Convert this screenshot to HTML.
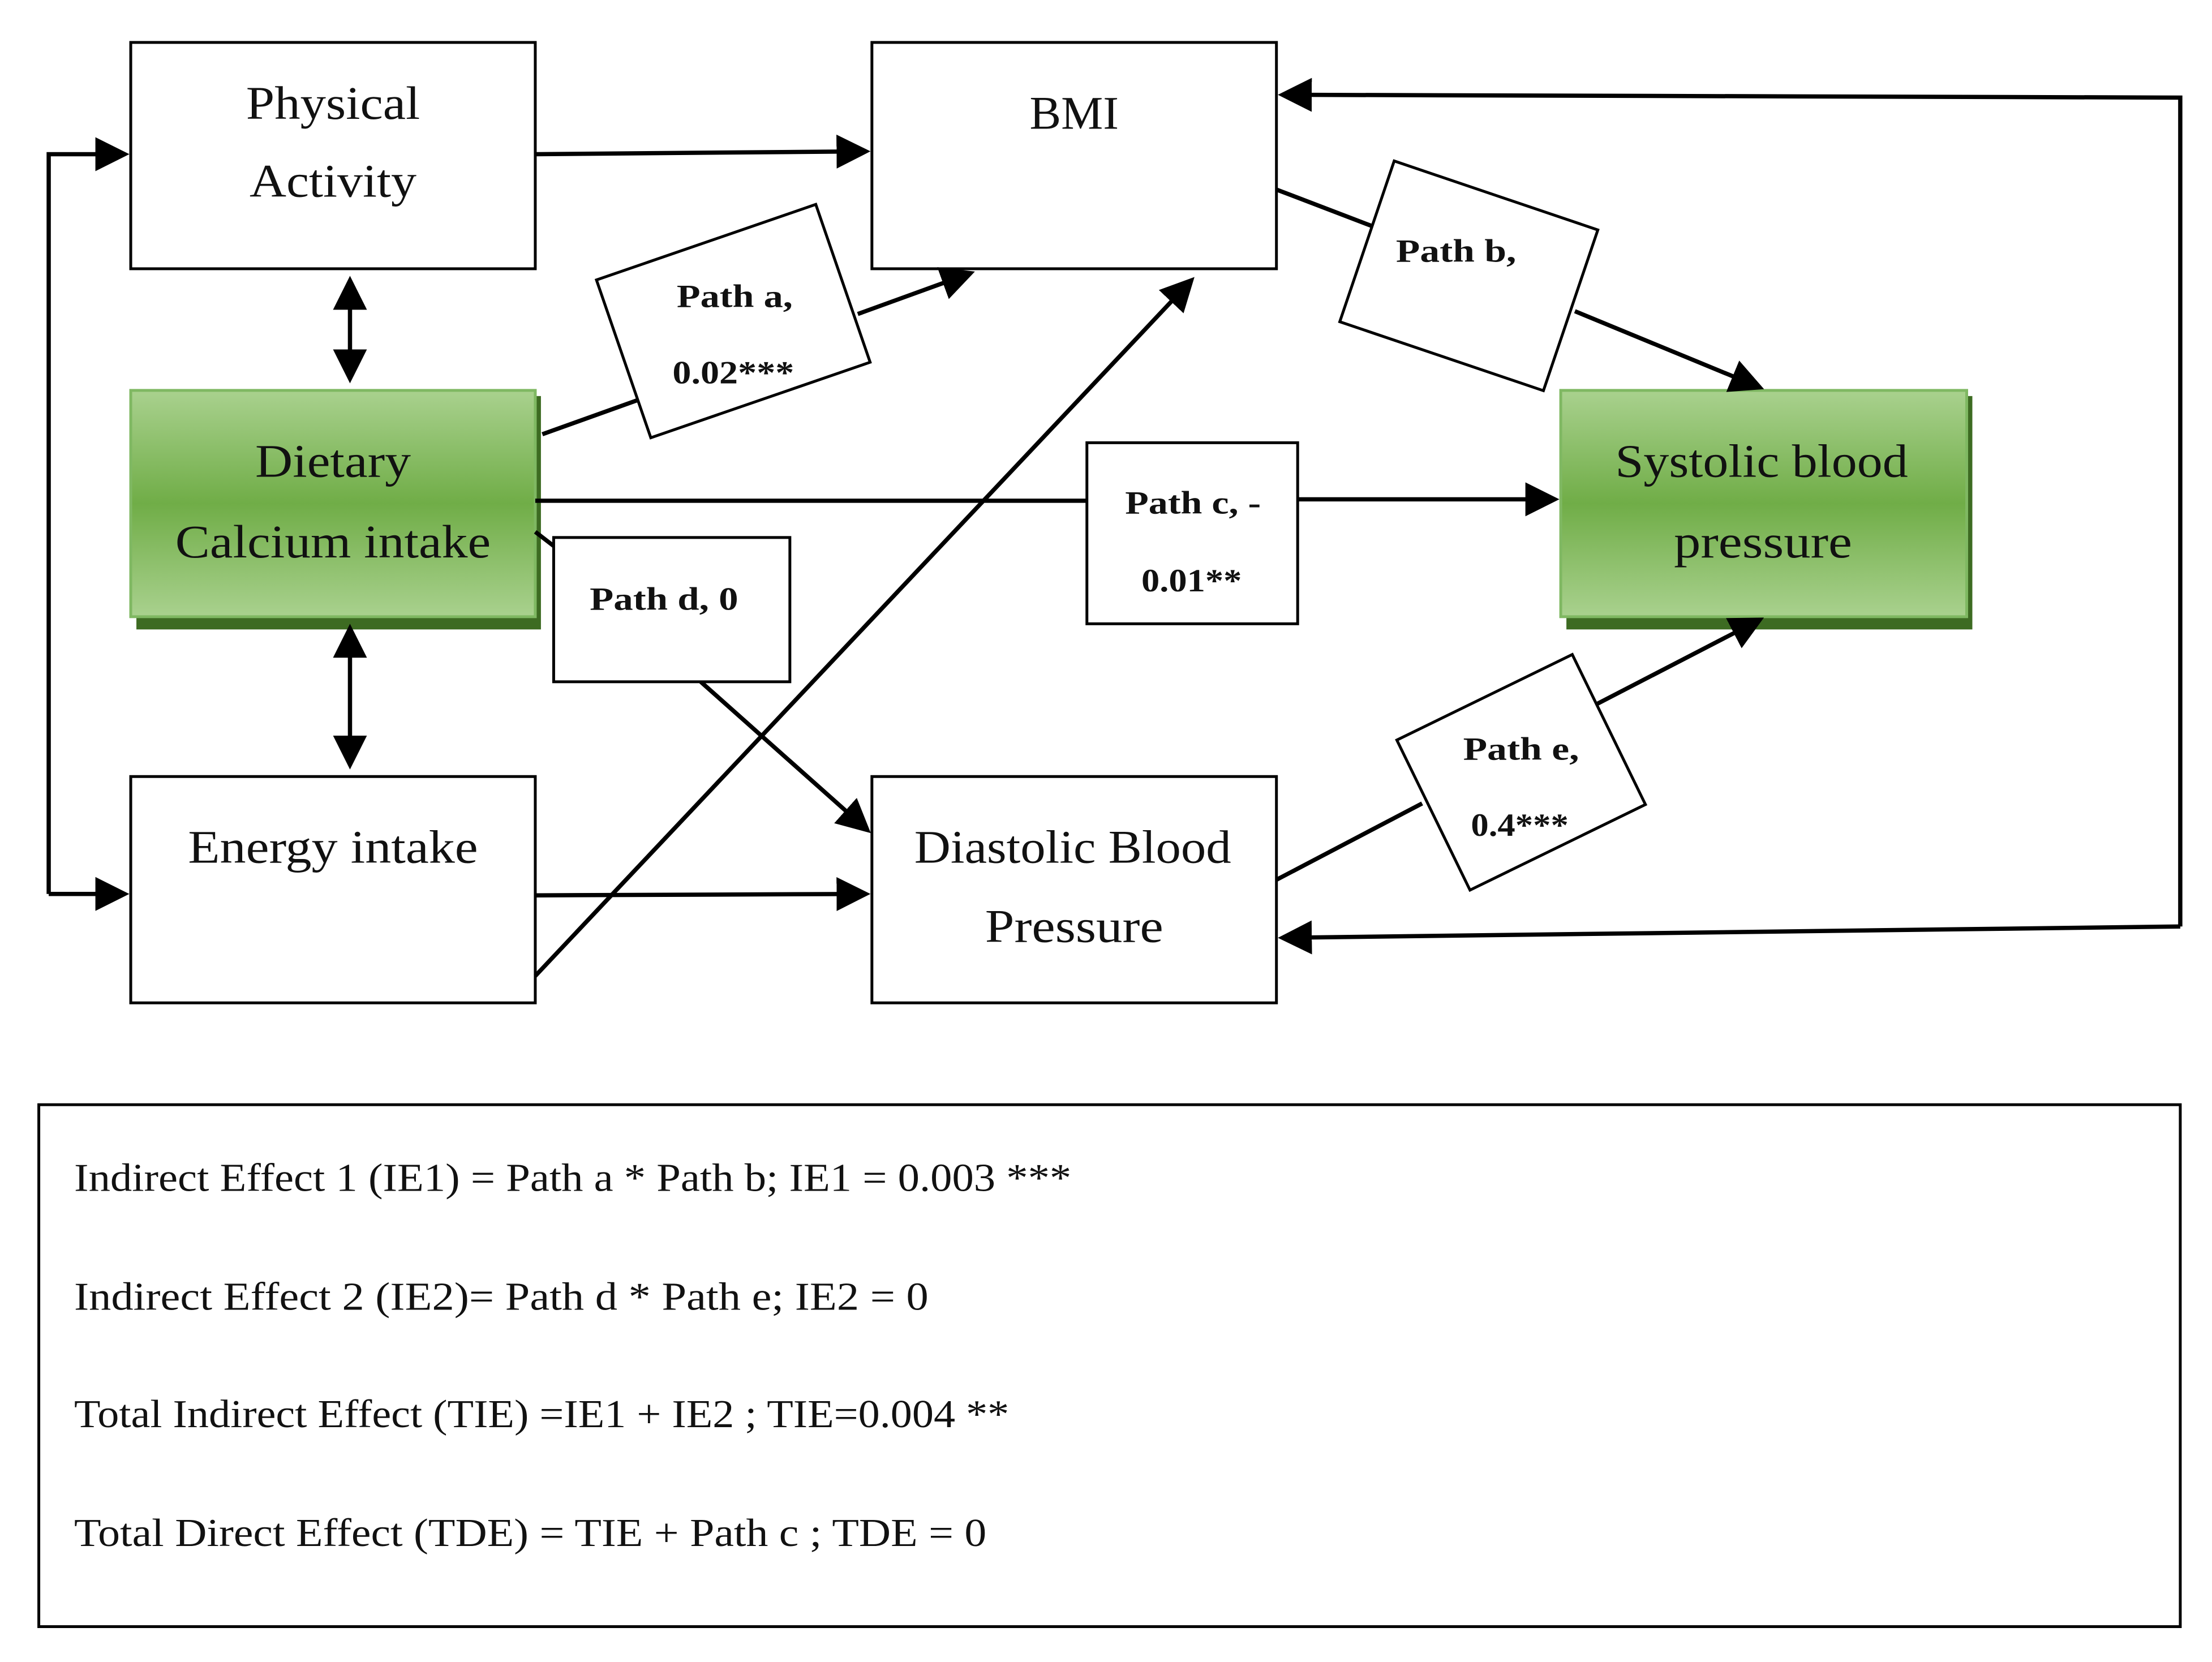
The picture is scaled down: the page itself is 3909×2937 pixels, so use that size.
<!DOCTYPE html>
<html><head><meta charset="utf-8"><style>
html,body{margin:0;padding:0;background:#fff;}
svg{display:block;}
text{font-family:"Liberation Serif",serif;}
.n{font-size:33px;text-anchor:middle;fill:#111;}
.p{font-size:23px;font-weight:bold;text-anchor:middle;fill:#111;}
.b{font-size:28px;fill:#111;}
</style></head><body>
<svg width="3909" height="2937" viewBox="0 0 1563 1175" xmlns="http://www.w3.org/2000/svg">
<defs>
<marker id="ar" markerWidth="8" markerHeight="8" refX="7" refY="4" orient="auto" markerUnits="strokeWidth"><path d="M0,0 L8,4 L0,8 z" fill="#000"/></marker>
<marker id="as" markerWidth="8" markerHeight="8" refX="1" refY="4" orient="auto" markerUnits="strokeWidth"><path d="M8,0 L0,4 L8,8 z" fill="#000"/></marker>
<linearGradient id="g" x1="0" y1="0" x2="0" y2="1"><stop offset="0" stop-color="#a9d18e"/><stop offset="0.5" stop-color="#70ad47"/><stop offset="1" stop-color="#a9d18e"/></linearGradient>
</defs>
<g fill="#fff" stroke="#000" stroke-width="2">
<rect x="92" y="30" width="286" height="160"/>
<rect x="616" y="30" width="286" height="160"/>
<rect x="92" y="549" width="286" height="160"/>
<rect x="616" y="549" width="286" height="160"/>
<rect x="27" y="781" width="1514" height="369"/>
</g>
<rect x="96" y="280" width="286" height="165" fill="#3d6b22"/>
<rect x="92" y="276" width="286" height="160" fill="url(#g)" stroke="#7fb862" stroke-width="2"/>
<rect x="1107" y="280" width="287" height="165" fill="#3d6b22"/>
<rect x="1103" y="276" width="287" height="160" fill="url(#g)" stroke="#7fb862" stroke-width="2"/>
<g stroke="#000" stroke-width="3" fill="none">
<line x1="378" y1="109" x2="612" y2="107" marker-end="url(#ar)"/>
<polyline points="34,632 34,109 88,109" marker-end="url(#ar)"/>
<line x1="34" y1="632" x2="88" y2="632" marker-end="url(#ar)"/>
<line x1="247" y1="198" x2="247" y2="268" marker-start="url(#as)" marker-end="url(#ar)"/>
<line x1="247" y1="444" x2="247" y2="541" marker-start="url(#as)" marker-end="url(#ar)"/>
<line x1="383" y1="307" x2="450" y2="283"/>
<line x1="606" y1="222" x2="686" y2="193" marker-end="url(#ar)"/>
<line x1="378" y1="690" x2="842" y2="198" marker-end="url(#ar)"/>
<line x1="378" y1="354" x2="768" y2="354"/>
<line x1="917" y1="353" x2="1099" y2="353" marker-end="url(#ar)"/>
<line x1="378" y1="376" x2="391" y2="386"/>
<line x1="495" y1="482" x2="613" y2="587" marker-end="url(#ar)"/>
<line x1="378" y1="633" x2="612" y2="632" marker-end="url(#ar)"/>
<line x1="902" y1="134" x2="970" y2="160"/>
<line x1="1113" y1="220" x2="1244" y2="274" marker-end="url(#ar)"/>
<line x1="902" y1="622" x2="1005" y2="568"/>
<line x1="1128" y1="498" x2="1244" y2="438" marker-end="url(#ar)"/>
<polyline points="1541,655 1541,69 906,67" marker-end="url(#ar)"/>
<line x1="1541" y1="655" x2="906" y2="663" marker-end="url(#ar)"/>
</g>
<g fill="#fff" stroke="#000" stroke-width="2">
<rect x="768" y="313" width="149" height="128"/>
<rect x="391" y="380" width="167" height="102"/>
<rect x="-82" y="-59" width="164" height="118" transform="translate(518,227) rotate(-19)"/>
<rect x="-76" y="-60" width="152" height="120" transform="translate(1038,195) rotate(18.7)"/>
<rect x="-69" y="-59" width="138" height="118" transform="translate(1075,546) rotate(-26)"/>
</g>
<g lengthAdjust="spacingAndGlyphs">
<text class="n" x="235" y="84" textLength="123" lengthAdjust="spacingAndGlyphs">Physical</text>
<text class="n" x="235" y="139" textLength="118" lengthAdjust="spacingAndGlyphs">Activity</text>
<text class="n" x="759" y="91" textLength="63" lengthAdjust="spacingAndGlyphs">BMI</text>
<text class="n" x="235" y="337" textLength="110" lengthAdjust="spacingAndGlyphs">Dietary</text>
<text class="n" x="235" y="394" textLength="223" lengthAdjust="spacingAndGlyphs">Calcium intake</text>
<text class="n" x="1245" y="337" textLength="207" lengthAdjust="spacingAndGlyphs">Systolic blood</text>
<text class="n" x="1246" y="394" textLength="126" lengthAdjust="spacingAndGlyphs">pressure</text>
<text class="n" x="235" y="610" textLength="205" lengthAdjust="spacingAndGlyphs">Energy intake</text>
<text class="n" x="758" y="610" textLength="224" lengthAdjust="spacingAndGlyphs">Diastolic Blood</text>
<text class="n" x="759" y="666" textLength="126" lengthAdjust="spacingAndGlyphs">Pressure</text>
<text class="p" x="519" y="217" textLength="82" lengthAdjust="spacingAndGlyphs">Path a,</text>
<text class="p" x="518" y="271" textLength="86" lengthAdjust="spacingAndGlyphs">0.02***</text>
<text class="p" x="1029" y="185" textLength="85" lengthAdjust="spacingAndGlyphs">Path b,</text>
<text class="p" x="843" y="363" textLength="96" lengthAdjust="spacingAndGlyphs">Path c, -</text>
<text class="p" x="842" y="418" textLength="71" lengthAdjust="spacingAndGlyphs">0.01**</text>
<text class="p" x="469" y="431" textLength="105" lengthAdjust="spacingAndGlyphs">Path d, 0</text>
<text class="p" x="1075" y="537" textLength="82" lengthAdjust="spacingAndGlyphs">Path e,</text>
<text class="p" x="1074" y="591" textLength="69" lengthAdjust="spacingAndGlyphs">0.4***</text>
<text class="b" x="52" y="842" textLength="705" lengthAdjust="spacingAndGlyphs">Indirect Effect 1 (IE1) = Path a * Path b; IE1 = 0.003 ***</text>
<text class="b" x="52" y="926" textLength="604" lengthAdjust="spacingAndGlyphs">Indirect Effect 2 (IE2)= Path d * Path e; IE2 = 0</text>
<text class="b" x="52" y="1009" textLength="661" lengthAdjust="spacingAndGlyphs">Total Indirect Effect (TIE) =IE1 + IE2 ; TIE=0.004 **</text>
<text class="b" x="52" y="1093" textLength="645" lengthAdjust="spacingAndGlyphs">Total Direct Effect (TDE) = TIE + Path c ; TDE = 0</text>
</g>
</svg>
</body></html>
